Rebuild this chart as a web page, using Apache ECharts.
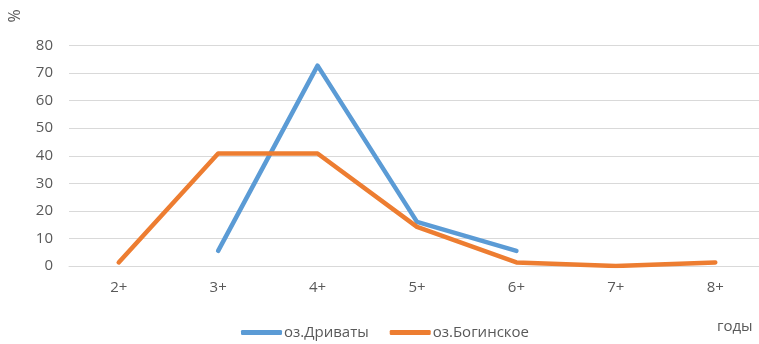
<!DOCTYPE html>
<html>
<head>
<meta charset="utf-8">
<script src="https://cdn.jsdelivr.net/npm/echarts@6/dist/echarts.min.js"></script>
<style>
  html, body { margin: 0; padding: 0; background: #fff; overflow: hidden; }
  /* the plot area runs slightly past the right edge of the page */
  #chart { width: 766px; height: 344px; }
</style>
</head>
<body>
<div id="chart"></div>
<script>
// Age groups (years)
const categories = ['2+', '3+', '4+', '5+', '6+', '7+', '8+'];
// Share of each age group, %
const drivyaty = [null, 5.5, 72.7, 16, 5.5, null, null];
const boginskoe = [1.3, 40.8, 40.8, 14.2, 1.3, 0, 1.3];
// Value axis ticks
const yTicks = [0, 10, 20, 30, 40, 50, 60, 70, 80];

const FONT = '"Open Sans", sans-serif';
const TEXT = '#595959';
const FS = 15;

const chart = echarts.init(document.getElementById('chart'), null, { renderer: 'canvas' });

function lineSeries(name, data, color) {
  return {
    name: name,
    type: 'line',
    data: data,
    showSymbol: false,
    symbol: 'none',
    connectNulls: false,
    lineStyle: { color: color, width: 4.5, cap: 'round', join: 'round' },
    itemStyle: { color: color },
    emphasis: { disabled: true },
    animation: false
  };
}

chart.setOption({
  animation: false,
  grid: { left: 69, width: 696, top: 45.5, bottom: 78, containLabel: false },
  xAxis: {
    type: 'category',
    data: categories,
    boundaryGap: true,
    axisLine: { show: true, lineStyle: { color: '#d9d9d9', width: 1 } },
    axisTick: { show: false },
    axisLabel: { color: TEXT, fontFamily: FONT, fontSize: FS, margin: 14 }
  },
  yAxis: {
    type: 'value',
    min: yTicks[0],
    max: yTicks[yTicks.length - 1],
    interval: yTicks[1] - yTicks[0],
    axisLine: { show: false },
    axisTick: { show: false },
    splitLine: { lineStyle: { color: '#d9d9d9', width: 1 } },
    axisLabel: { color: TEXT, fontFamily: FONT, fontSize: FS, margin: 16 }
  },
  legend: {
    left: 241,
    top: 325,
    padding: 0,
    itemWidth: 41,
    itemHeight: 5,
    itemGap: 21,
    icon: 'roundRect',
    textStyle: { color: TEXT, fontFamily: FONT, fontSize: FS, padding: [0, 0, 0, -3] },
    data: ['оз.Дриваты', 'оз.Богинское']
  },
  graphic: [
    {
      type: 'text',
      x: 15,
      y: 16,
      rotation: Math.PI / 2,
      style: { text: '%', fill: TEXT, font: '16px ' + FONT, align: 'center', verticalAlign: 'middle' }
    },
    {
      type: 'text',
      left: 717,
      top: 319,
      style: { text: 'годы', fill: TEXT, font: FS + 'px ' + FONT }
    }
  ],
  series: [
    lineSeries('оз.Дриваты', drivyaty, '#5B9BD5'),
    lineSeries('оз.Богинское', boginskoe, '#ED7D31')
  ]
});
</script>
</body>
</html>
